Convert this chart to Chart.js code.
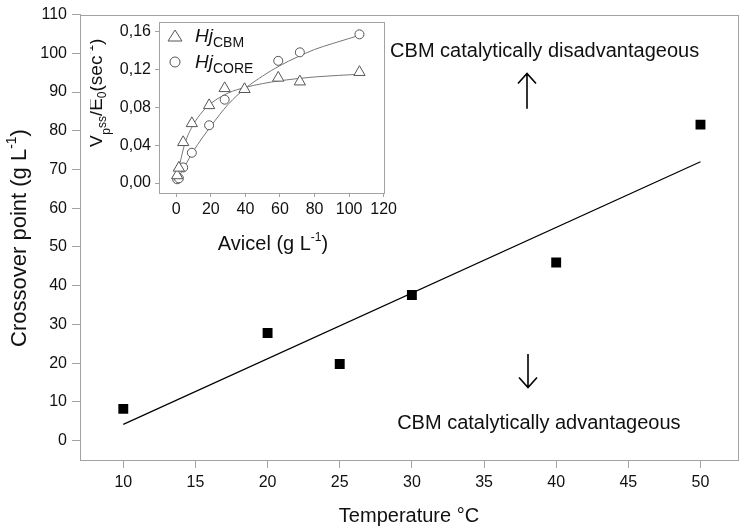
<!DOCTYPE html>
<html>
<head>
<meta charset="utf-8">
<script src="https://cdn.jsdelivr.net/npm/chart.js@4.4.1/dist/chart.umd.min.js"></script>
<style>
  html, body { margin: 0; padding: 0; background: #fff; }
  #wrap { position: relative; width: 745px; height: 527px; }
  #main { position: absolute; left: 0; top: 0; }
  #inset { position: absolute; left: 90px; top: 0; }
</style>
</head>
<body>
<div id="wrap">
  <canvas id="main" width="745" height="527" style="width:745px;height:527px"></canvas>
  <canvas id="inset" width="310" height="260" style="width:310px;height:260px"></canvas>
</div>
<script>
// ---- main panel: crossover point vs temperature ----
const temps = [10, 20, 25, 30, 40, 50];
const crossover = [8.2, 27.8, 19.8, 37.6, 46.0, 81.6];
const fitTemps = [10, 50];
const fitCrossover = [4.2, 72.0];
const tempTicks = [10, 15, 20, 25, 30, 35, 40, 45, 50];
const crossTicks = [0, 10, 20, 30, 40, 50, 60, 70, 80, 90, 100, 110];

// ---- inset: Vp/E0 vs Avicel ----
const avicelCBM = [0.5, 1.5, 4, 9, 19, 28, 39.5, 59, 71.5, 106];
const rateCBM = [0.008, 0.016, 0.043, 0.063, 0.082, 0.100, 0.099, 0.111, 0.107, 0.117];
const avicelCORE = [0.5, 1.5, 4, 9, 19, 28, 59, 71.5, 106];
const rateCORE = [0.004, 0.005, 0.0165, 0.032, 0.061, 0.088, 0.129, 0.138, 0.157];
// fitted curves
const curveXCBM = [0, 2, 5, 10, 15, 20, 30, 40, 50, 60, 80, 108];
const curveYCBM = [0.004, 0.020, 0.042, 0.062, 0.075, 0.084, 0.095, 0.101, 0.105, 0.108, 0.112, 0.115];
const curveXCORE = [0, 5, 10, 20, 30, 40, 50, 60, 70, 80, 90, 108];
const curveYCORE = [0.002, 0.018, 0.034, 0.060, 0.083, 0.100, 0.113, 0.124, 0.133, 0.141, 0.147, 0.157];
const avicelTicks = [0, 20, 40, 60, 80, 100, 120];
const rateTicks = [0, 0.04, 0.08, 0.12, 0.16];

// annotations, in data units of the main panel
const notes = [
  { text: "CBM catalytically disadvantageous", x: 39.2, y: 100.4 },
  { text: "CBM catalytically advantageous", x: 38.8, y: 4.3 },
];
const arrows = [
  { x: 38.0, from: 85.7, to: 94.8 },
  { x: 38.05, from: 22.4, to: 13.7 },
];

const FONT = '"Liberation Sans", Arial, sans-serif';
const FRAME = "#a3a3a3";
const TEXT = "#111";

const pts = (xs, ys) => xs.map((x, i) => ({ x, y: ys[i] }));

// draws a run of text pieces (sub/superscripts) centred on cx,cy
function drawRich(ctx, parts, cx, cy, rotate) {
  ctx.save();
  ctx.translate(cx, cy);
  if (rotate) ctx.rotate(-Math.PI / 2);
  let total = 0;
  parts.forEach((p) => { ctx.font = p.font; p.w = ctx.measureText(p.t).width; total += p.w; });
  let x = -total / 2;
  ctx.textBaseline = "alphabetic";
  ctx.textAlign = "left";
  ctx.fillStyle = TEXT;
  parts.forEach((p) => { ctx.font = p.font; ctx.fillText(p.t, x, p.dy || 0); x += p.w; });
  ctx.restore();
}

function frameRect(ctx, a) {
  ctx.save();
  ctx.strokeStyle = FRAME;
  ctx.lineWidth = 1;
  ctx.strokeRect(Math.round(a.left) + 0.5, Math.round(a.top) + 0.5,
    Math.round(a.right - a.left), Math.round(a.bottom - a.top));
  ctx.restore();
}

const mainDecor = {
  id: "mainDecor",
  afterDraw(chart) {
    const { ctx, chartArea: a, scales } = chart;
    frameRect(ctx, a);
    drawRich(ctx, [
      { t: "Crossover point (g L", font: `22px ${FONT}` },
      { t: "-1", font: `14px ${FONT}` , dy: -10 },
      { t: ")", font: `22px ${FONT}` },
    ], 26, 238, true);
    drawRich(ctx, [{ t: "Temperature °C", font: `20px ${FONT}` }], (a.left + a.right) / 2, 522, false);

    ctx.save();
    ctx.fillStyle = TEXT;
    ctx.font = `20px ${FONT}`;
    ctx.textAlign = "center";
    ctx.textBaseline = "middle";
    notes.forEach((n) => ctx.fillText(n.text, scales.x.getPixelForValue(n.x), scales.y.getPixelForValue(n.y)));
    ctx.strokeStyle = "#000";
    ctx.lineWidth = 1.6;
    arrows.forEach((ar) => {
      const x = Math.round(scales.x.getPixelForValue(ar.x));
      const y0 = scales.y.getPixelForValue(ar.from);
      const y1 = scales.y.getPixelForValue(ar.to);
      const dir = y1 < y0 ? 1 : -1;
      ctx.beginPath();
      ctx.moveTo(x, y0); ctx.lineTo(x, y1);
      ctx.moveTo(x - 9, y1 + dir * 10); ctx.lineTo(x, y1); ctx.lineTo(x + 9, y1 + dir * 10);
      ctx.stroke();
    });
    ctx.restore();
  },
};

new Chart(document.getElementById("main"), {
  type: "scatter",
  data: {
    datasets: [
      {
        label: "Crossover",
        data: pts(temps, crossover),
        pointStyle: "rect",
        pointRadius: 7,
        backgroundColor: "#000",
        borderColor: "#000",
        borderWidth: 0,
        order: 0,
      },
      {
        label: "Fit",
        type: "line",
        data: pts(fitTemps, fitCrossover),
        borderColor: "#000",
        borderWidth: 1.2,
        pointRadius: 0,
        order: 1,
      },
    ],
  },
  options: {
    responsive: false,
    animation: false,
    layout: { padding: { top: 7, right: 5, left: 0, bottom: 0 } },
    plugins: { legend: { display: false }, tooltip: { enabled: false } },
    scales: {
      x: {
        type: "linear", min: 7, max: 52.6,
        afterBuildTicks: (s) => { s.ticks = tempTicks.map((v) => ({ value: v })); },
        afterFit: (s) => { s.height = 67; },
        grid: { drawOnChartArea: false, tickLength: 8, color: FRAME },
        border: { display: true, color: FRAME },
        ticks: { color: TEXT, font: { family: FONT, size: 16 }, padding: 5, maxRotation: 0 },
      },
      y: {
        type: "linear", min: -5, max: 110,
        afterBuildTicks: (s) => { s.ticks = crossTicks.map((v) => ({ value: v })); },
        afterFit: (s) => { s.width = 80; },
        grid: { drawOnChartArea: false, tickLength: 8, color: FRAME },
        border: { display: true, color: FRAME },
        ticks: { color: TEXT, font: { family: FONT, size: 16 }, padding: 5 },
      },
    },
  },
  plugins: [mainDecor],
});

const insetDecor = {
  id: "insetDecor",
  afterDraw(chart) {
    const { ctx, chartArea: a } = chart;
    frameRect(ctx, a);
    drawRich(ctx, [
      { t: "V", font: `19px ${FONT}` },
      { t: "p", font: `12px ${FONT}`, dy: 8 },
      { t: "ss", font: `12px ${FONT}`, dy: 4 },
      { t: "/E", font: `19px ${FONT}` },
      { t: "0", font: `12px ${FONT}`, dy: 4 },
      { t: "(sec", font: `19px ${FONT}` },
      { t: "-1", font: `12px ${FONT}`, dy: -9 },
      { t: ")", font: `19px ${FONT}` },
    ], 12, 93, true);
    drawRich(ctx, [
      { t: "Avicel (g L", font: `20px ${FONT}` },
      { t: "-1", font: `12px ${FONT}`, dy: -9 },
      { t: ")", font: `20px ${FONT}` },
    ], 183, 250, false);

    // legend
    ctx.save();
    ctx.strokeStyle = "#555";
    ctx.fillStyle = "#fff";
    ctx.lineWidth = 1;
    const lx = 85, ly1 = 36, ly2 = 62;
    ctx.beginPath();
    ctx.moveTo(lx, ly1 - 6); ctx.lineTo(lx + 7, ly1 + 5); ctx.lineTo(lx - 7, ly1 + 5); ctx.closePath();
    ctx.fill(); ctx.stroke();
    ctx.beginPath(); ctx.arc(lx, ly2, 5, 0, Math.PI * 2); ctx.fill(); ctx.stroke();
    ctx.restore();
    [["CBM", ly1], ["CORE", ly2]].forEach(([sub, y]) => {
      ctx.save();
      ctx.fillStyle = TEXT;
      ctx.textBaseline = "alphabetic";
      ctx.font = `italic 19px ${FONT}`;
      ctx.fillText("Hj", 105, y + 6);
      const w = ctx.measureText("Hj").width;
      ctx.font = `14px ${FONT}`;
      ctx.fillText(sub, 105 + w, y + 11);
      ctx.restore();
    });
  },
};

new Chart(document.getElementById("inset"), {
  type: "scatter",
  data: {
    datasets: [
      {
        label: "HjCBM",
        data: pts(avicelCBM, rateCBM),
        pointStyle: "triangle",
        pointRadius: 6.5,
        backgroundColor: "#fff",
        borderColor: "#555",
        borderWidth: 1,
        order: 0,
      },
      {
        label: "HjCORE",
        data: pts(avicelCORE, rateCORE),
        pointStyle: "circle",
        pointRadius: 4.5,
        backgroundColor: "#fff",
        borderColor: "#555",
        borderWidth: 1,
        order: 0,
      },
      {
        type: "line",
        data: pts(curveXCBM, curveYCBM),
        borderColor: "#777",
        borderWidth: 1,
        pointRadius: 0,
        cubicInterpolationMode: "monotone",
        order: 1,
      },
      {
        type: "line",
        data: pts(curveXCORE, curveYCORE),
        borderColor: "#777",
        borderWidth: 1,
        pointRadius: 0,
        cubicInterpolationMode: "monotone",
        order: 1,
      },
    ],
  },
  options: {
    responsive: false,
    animation: false,
    layout: { padding: { top: 22, right: 14, left: 0, bottom: 0 } },
    plugins: { legend: { display: false }, tooltip: { enabled: false } },
    scales: {
      x: {
        type: "linear", min: -10, max: 120,
        afterBuildTicks: (s) => { s.ticks = avicelTicks.map((v) => ({ value: v })); },
        afterFit: (s) => { s.height = 67; },
        grid: { drawOnChartArea: false, tickLength: 4, color: FRAME },
        border: { display: true, color: FRAME },
        ticks: { color: TEXT, font: { family: FONT, size: 16 }, padding: 3, maxRotation: 0 },
      },
      y: {
        type: "linear", min: -0.0105, max: 0.17,
        afterBuildTicks: (s) => { s.ticks = rateTicks.map((v) => ({ value: v })); },
        afterFit: (s) => { s.width = 69; },
        grid: { drawOnChartArea: false, tickLength: 4, color: FRAME },
        border: { display: true, color: FRAME },
        ticks: {
          color: TEXT, font: { family: FONT, size: 16 }, padding: 4,
          callback: (v) => v.toFixed(2).replace(".", ","),
        },
      },
    },
  },
  plugins: [insetDecor],
});
</script>
</body>
</html>
